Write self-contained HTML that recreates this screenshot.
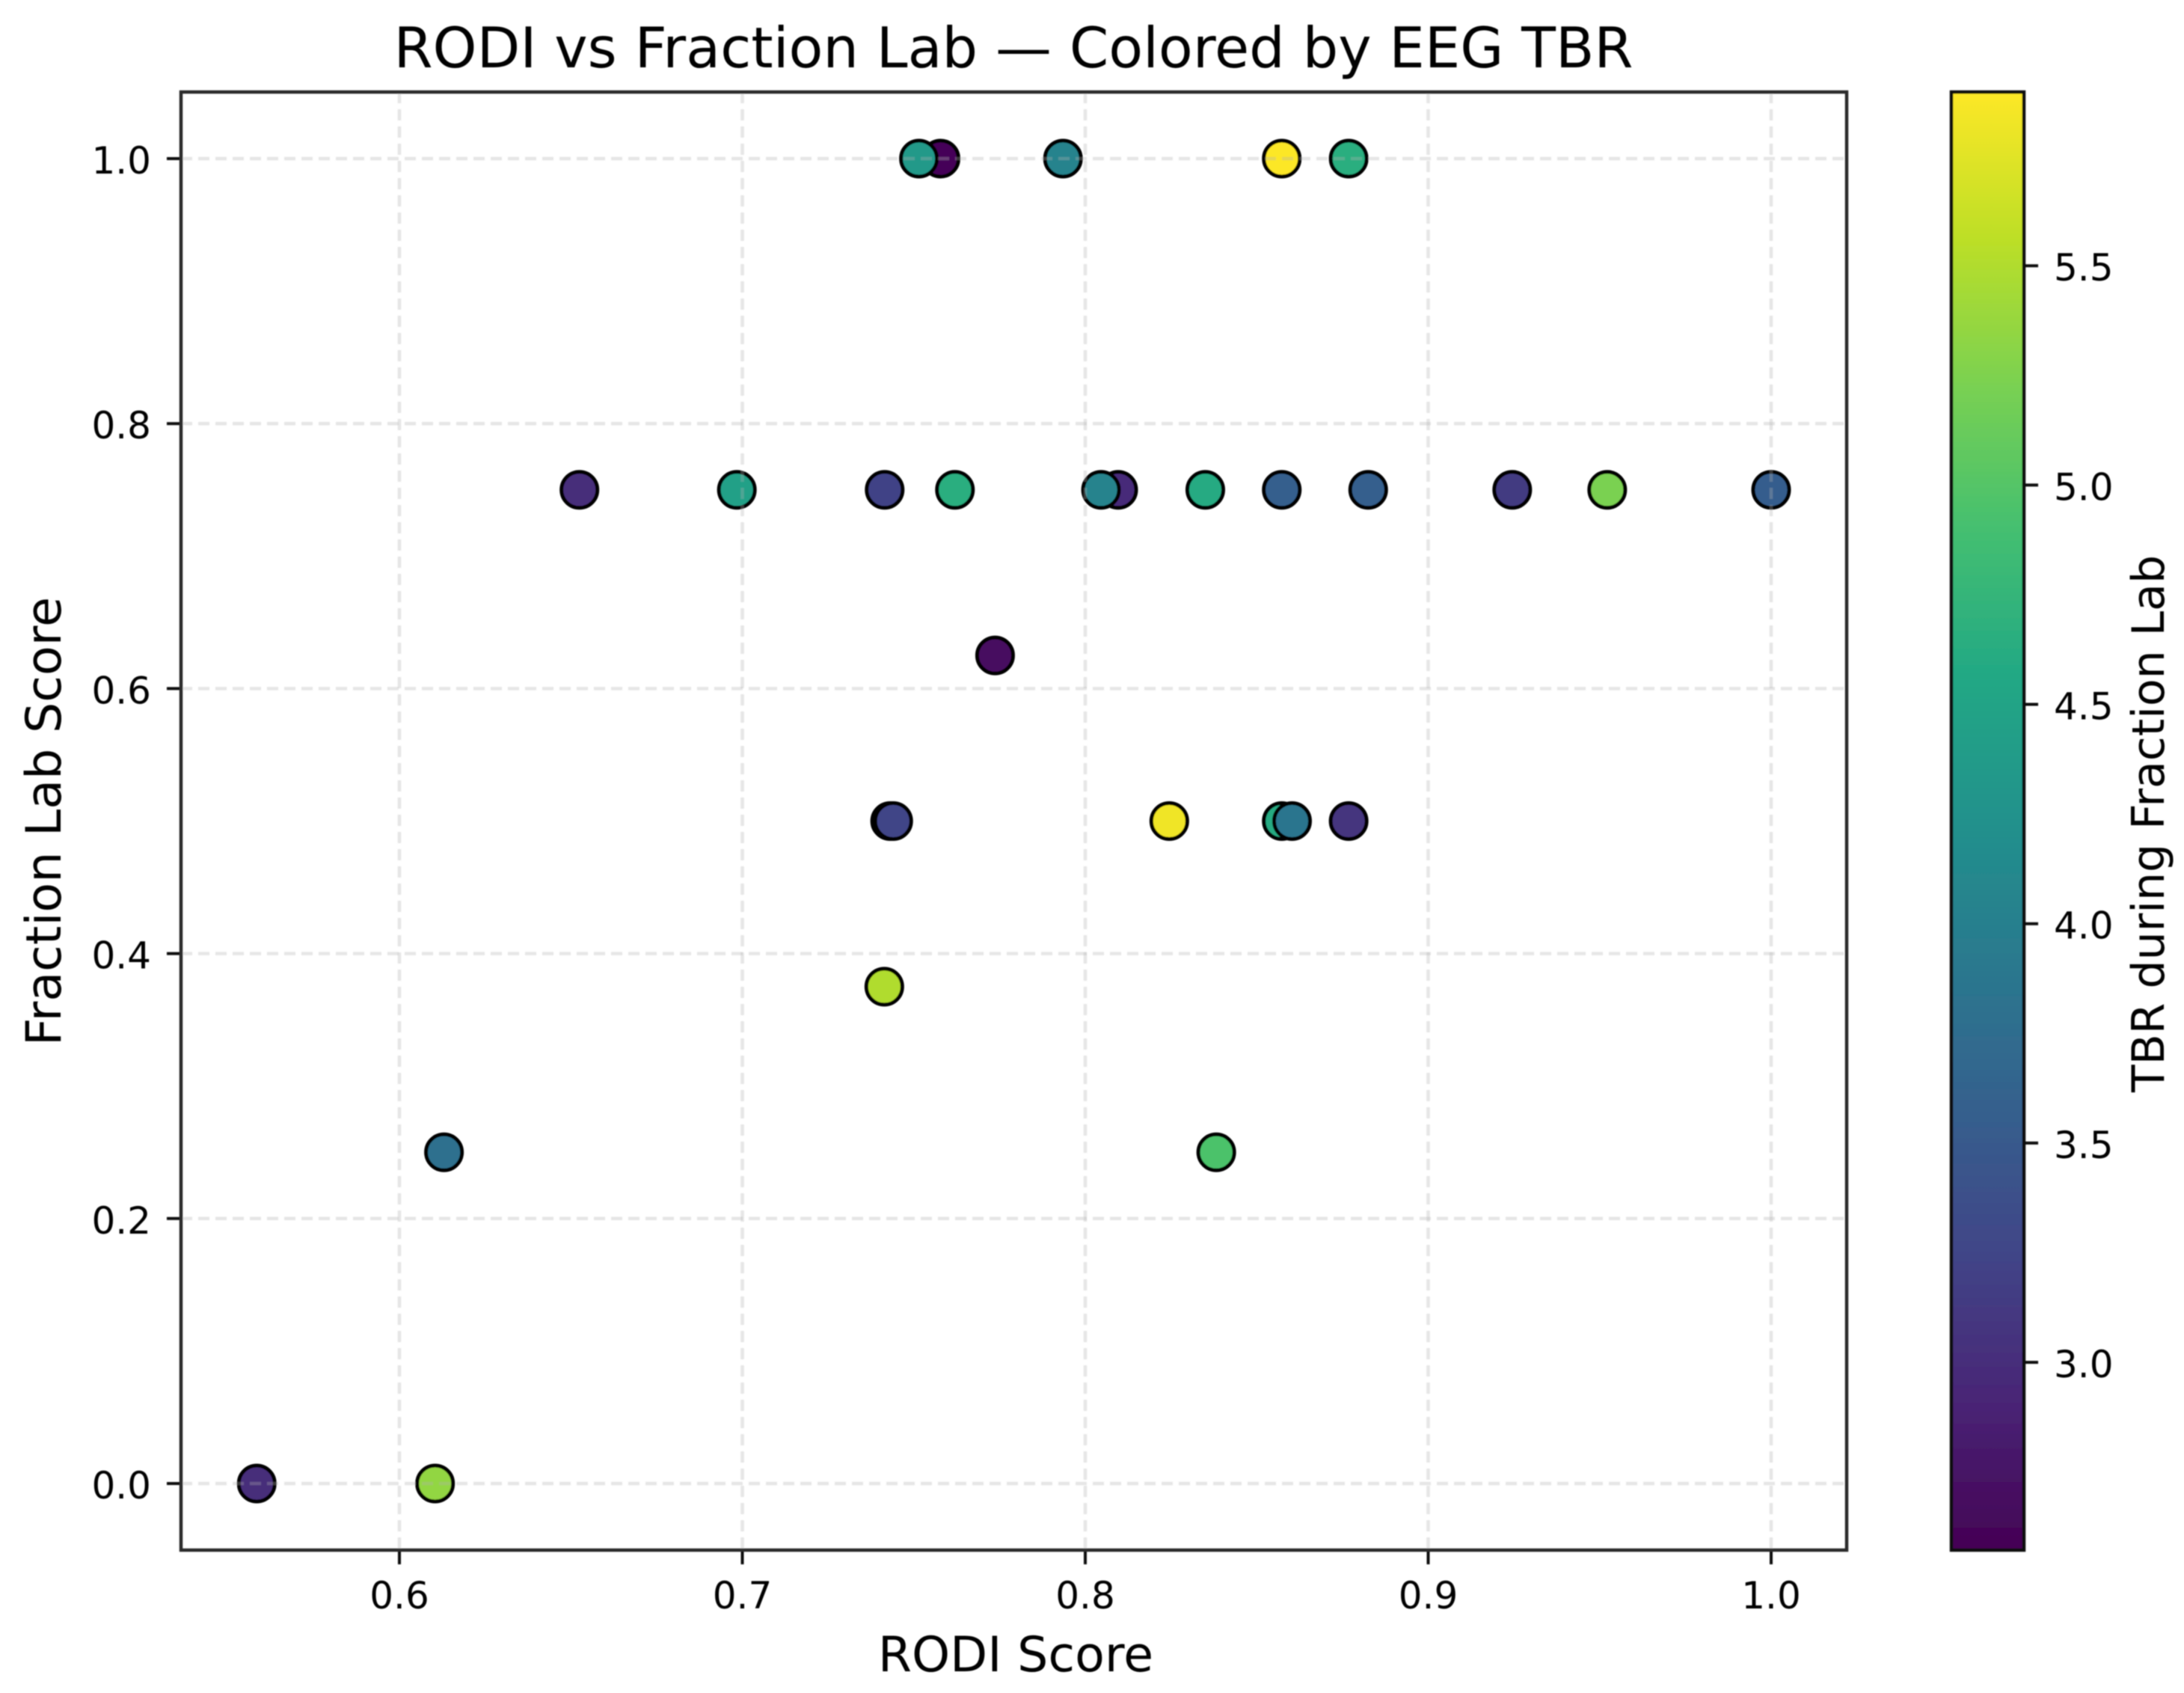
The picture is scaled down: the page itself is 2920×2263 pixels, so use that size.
<!DOCTYPE html>
<html lang="en">
<head>
<meta charset="utf-8">
<title>RODI vs Fraction Lab</title>
<style>
html,body{margin:0;padding:0;background:#fff;width:2920px;height:2263px;overflow:hidden}
svg{display:block;font-family:"DejaVu Sans","Liberation Sans",sans-serif;fill:#000}
</style>
</head>
<body>
<svg id="chart" width="2920" height="2263" viewBox="0 0 2920 2263" xmlns="http://www.w3.org/2000/svg">
<defs>
<filter id="soft" x="0" y="0" width="100%" height="100%"><feGaussianBlur stdDeviation="0.9"/></filter>
<linearGradient id="viridis-gradient" x1="0" y1="1" x2="0" y2="0"></linearGradient>
</defs>
<rect width="2920" height="2263" fill="#fff"/>
<g id="root" filter="url(#soft)">
<text x="1355" y="90" font-size="75" text-anchor="middle">RODI vs Fraction Lab — Colored by EEG TBR</text>
<text x="1358" y="2234" font-size="65" text-anchor="middle">RODI Score</text>
<text transform="translate(81,1098) rotate(-90)" font-size="65" text-anchor="middle">Fraction Lab Score</text>
<text transform="translate(2893,1101) rotate(-90)" font-size="60" text-anchor="middle">TBR during Fraction Lab</text>
<g id="markers"></g>
<g id="grid"></g>
<g id="axes"></g>
<g id="colorbar"></g>
</g>
</svg>
<script>
const rodiScores = [0.7578,0.7515,0.7935,0.8573,0.8768,0.6525,0.6984,0.7415,0.762,0.8096,0.8046,0.835,0.8573,0.8825,0.9245,0.9522,1.0,0.7737,0.7431,0.744,0.8245,0.8573,0.8603,0.8768,0.7414,0.613,0.8382,0.5584,0.6104];
const fractionScores = [1,1,1,1,1,0.75,0.75,0.75,0.75,0.75,0.75,0.75,0.75,0.75,0.75,0.75,0.75,0.625,0.5,0.5,0.5,0.5,0.5,0.5,0.375,0.25,0.25,0,0];
const tbrValues = [2.62,4.35,4.05,5.89,4.65,3.0,4.45,3.22,4.65,2.97,4.05,4.6,3.57,3.57,3.13,5.23,3.55,2.7,2.85,3.25,5.83,4.6,3.85,3.07,5.5,3.8,4.95,3.0,5.35];
const xTicks = [0.6,0.7,0.8,0.9,1.0];
const yTicks = [0.0,0.2,0.4,0.6,0.8,1.0];
const colorTicks = [3.0,3.5,4.0,4.5,5.0,5.5];
const colorDomain = [2.572,5.896];
const viridisStops = ["#440154","#482475","#414487","#355f8d","#2a788e","#21918c","#22a884","#44bf70","#7ad151","#bddf26","#fde725"];

const NS = "http://www.w3.org/2000/svg";
const plot = {left:242,right:2469,top:123,bottom:2072};
const bar = {left:2609,right:2706,top:123,bottom:2072};
const xScale = v => 534 + (v - 0.6) * 4585;
const yScale = v => 1983 - v * 1771;
const cScale = v => bar.bottom - (v - colorDomain[0]) / (colorDomain[1] - colorDomain[0]) * (bar.bottom - bar.top);

function make(tag, attrs, parent, txt) {
  const el = document.createElementNS(NS, tag);
  for (const k in attrs) el.setAttribute(k, attrs[k]);
  if (txt !== undefined) el.textContent = txt;
  parent.appendChild(el);
  return el;
}
function hexToRgb(h) {
  return [1,3,5].map(i => parseInt(h.slice(i, i + 2), 16));
}
function viridis(t) {
  const c = Math.max(0, Math.min(1, t)) * (viridisStops.length - 1);
  const i = Math.min(Math.floor(c), viridisStops.length - 2);
  const f = c - i;
  const a = hexToRgb(viridisStops[i]);
  const b = hexToRgb(viridisStops[i + 1]);
  return "rgb(" + a.map((v, k) => Math.round(v + (b[k] - v) * f)).join(",") + ")";
}

const markersG = document.getElementById("markers");
const gridG = document.getElementById("grid");
const axesG = document.getElementById("axes");
const barG = document.getElementById("colorbar");

rodiScores.forEach((r, i) => {
  const t = (tbrValues[i] - colorDomain[0]) / (colorDomain[1] - colorDomain[0]);
  const pt = make("circle", {cx:xScale(r), cy:yScale(fractionScores[i]), r:24, fill:viridis(t), stroke:"#000", "stroke-width":5}, markersG);
  
  
});

xTicks.forEach(v => {
  const gl = make("line", {x1:xScale(v), x2:xScale(v), y1:plot.top, y2:plot.bottom, stroke:"#b0b0b0", "stroke-opacity":0.32, "stroke-width":4.5, "stroke-dasharray":"15 8"}, gridG);
  
  
  const tk = make("line", {x1:xScale(v), x2:xScale(v), y1:plot.bottom, y2:plot.bottom + 19, stroke:"#111", "stroke-width":4}, axesG);
  
  
  const lb = make("text", {x:xScale(v), y:2150, "font-size":50, "text-anchor":"middle"}, axesG, v.toFixed(1));
  
  
});
yTicks.forEach(v => {
  const gl = make("line", {x1:plot.left, x2:plot.right, y1:yScale(v), y2:yScale(v), stroke:"#b0b0b0", "stroke-opacity":0.32, "stroke-width":4.5, "stroke-dasharray":"15 8"}, gridG);
  
  
  const tk = make("line", {x1:plot.left - 19, x2:plot.left, y1:yScale(v), y2:yScale(v), stroke:"#111", "stroke-width":4}, axesG);
  
  
  const lb = make("text", {x:202, y:yScale(v) + 20, "font-size":50, "text-anchor":"end"}, axesG, v.toFixed(1));
  
  
});
const frame = make("rect", {x:plot.left, y:plot.top, width:plot.right - plot.left, height:plot.bottom - plot.top, fill:"none", stroke:"#2a2a2a", "stroke-width":4.5}, axesG);



const grad = document.getElementById("viridis-gradient");
viridisStops.forEach((c, i) => {
  make("stop", {offset:i / (viridisStops.length - 1), "stop-color":c}, grad);
});
const ramp = make("rect", {x:bar.left, y:bar.top, width:bar.right - bar.left, height:bar.bottom - bar.top, fill:"url(#viridis-gradient)", stroke:"#111", "stroke-width":4.5}, barG);


colorTicks.forEach(v => {
  const tk = make("line", {x1:bar.right, x2:bar.right + 19, y1:cScale(v), y2:cScale(v), stroke:"#111", "stroke-width":4}, barG);
  
  
  const lb = make("text", {x:2746, y:cScale(v) + 20, "font-size":50}, barG, v.toFixed(1));
  
  
});
</script>
</body>
</html>
